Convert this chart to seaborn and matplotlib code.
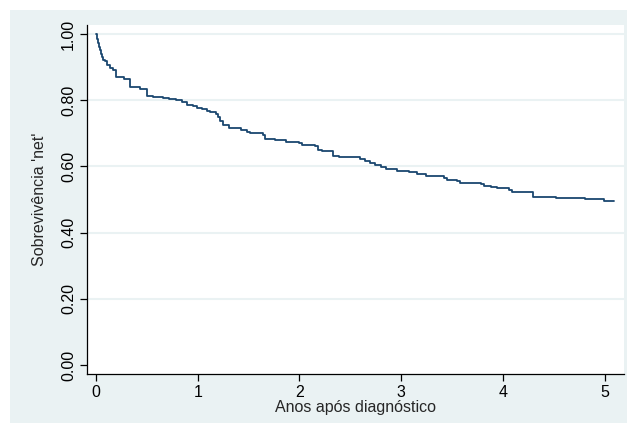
import matplotlib
matplotlib.use("Agg")
import matplotlib.pyplot as plt
import seaborn as sns
import pandas as pd
from matplotlib.patches import Rectangle

# net survival curve (step function, post)
anos = [0.00, 0.01, 0.02, 0.03, 0.04, 0.05, 0.06, 0.07, 0.09, 0.11, 0.14, 0.17,
        0.20, 0.28, 0.33, 0.43, 0.50, 0.56, 0.66, 0.72, 0.79, 0.85, 0.89, 0.95,
        0.99, 1.04, 1.09, 1.12, 1.18, 1.20, 1.22, 1.25, 1.31, 1.43, 1.48, 1.51,
        1.64, 1.66, 1.76, 1.87, 2.00, 2.03, 2.15, 2.18, 2.22, 2.33, 2.39, 2.60,
        2.64, 2.69, 2.74, 2.80, 2.85, 2.96, 3.08, 3.16, 3.24, 3.42, 3.45, 3.55,
        3.58, 3.78, 3.81, 3.88, 3.94, 4.06, 4.09, 4.30, 4.52, 4.81, 4.99, 5.09]
sobrevivencia = [1.000, 0.985, 0.972, 0.960, 0.950, 0.940, 0.930, 0.922, 0.917, 0.905, 0.897, 0.892,
                 0.869, 0.865, 0.839, 0.835, 0.812, 0.810, 0.807, 0.803, 0.799, 0.795, 0.786, 0.782,
                 0.776, 0.772, 0.768, 0.763, 0.758, 0.748, 0.738, 0.725, 0.715, 0.711, 0.703, 0.700,
                 0.695, 0.684, 0.680, 0.675, 0.670, 0.665, 0.662, 0.651, 0.647, 0.631, 0.627, 0.623,
                 0.617, 0.611, 0.605, 0.599, 0.592, 0.585, 0.582, 0.576, 0.571, 0.566, 0.559, 0.555,
                 0.549, 0.546, 0.542, 0.539, 0.534, 0.530, 0.524, 0.507, 0.505, 0.502, 0.494, 0.494]
yticks = [0.0, 0.2, 0.4, 0.6, 0.8, 1.0]
xticks = [0, 1, 2, 3, 4, 5]

sns.set_theme(style="ticks")
plt.rcParams["font.family"] = ["Liberation Sans", "DejaVu Sans"]

BG = "#eaf2f3"
NAVY = "#1a476f"
FS = 11.5

df = pd.DataFrame({"anos": anos, "surv": sobrevivencia})

fig = plt.figure(figsize=(6.27, 4.23), dpi=100, facecolor="white")
fig.patches.append(Rectangle((10 / 627, 0), 1 - 10 / 627, 413 / 423,
                             transform=fig.transFigure, facecolor=BG,
                             edgecolor="none", zorder=-10))
ax = fig.add_axes([87 / 627, 49 / 423, 537 / 627, 349 / 423])
ax.set_facecolor("white")

sns.lineplot(data=df, x="anos", y="surv", drawstyle="steps-post", color=NAVY,
             linewidth=1.3, ax=ax, legend=False)

ax.set_xlim(-0.088, 5.19)
ax.set_ylim(-0.027, 1.027)
ax.set_xticks(xticks)
ax.set_yticks(yticks)
ax.set_yticklabels([f"{v:.2f}" for v in yticks], rotation=90, va="center")
ax.tick_params(axis="both", labelsize=FS, length=5, width=0.9, colors="black", pad=3)

ax.yaxis.grid(True, color=BG, linewidth=1.5)
ax.yaxis.get_gridlines()[0].set_visible(False)
ax.set_axisbelow(True)

for s in ["top", "right"]:
    ax.spines[s].set_visible(False)
for s in ["left", "bottom"]:
    ax.spines[s].set_color("black")
    ax.spines[s].set_linewidth(0.9)

ax.set_xlabel("Anos após diagnóstico", fontsize=FS, labelpad=0)
ax.set_ylabel("Sobrevivência 'net'", fontsize=FS, labelpad=10)

fig.savefig("out.png", dpi=100, facecolor="white")
plt.close()
